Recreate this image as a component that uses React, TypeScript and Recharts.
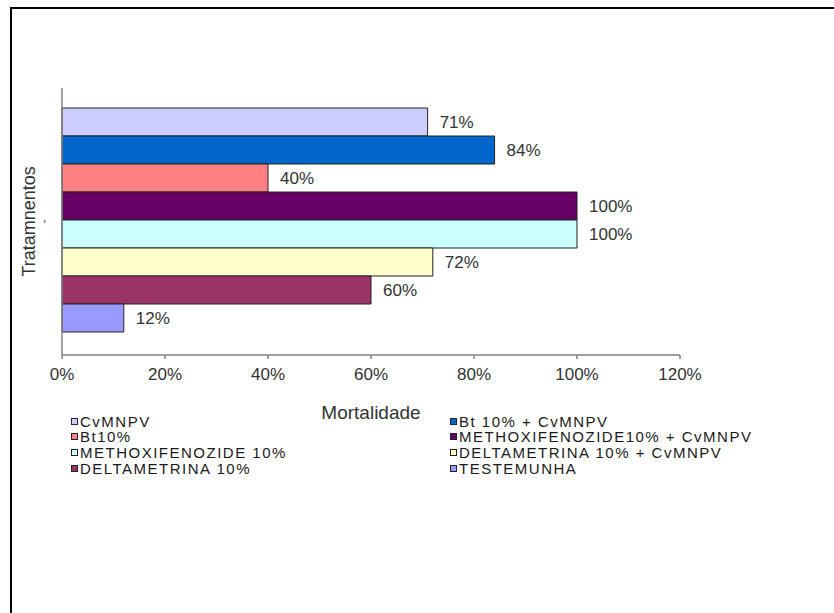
import React from "react";
import { BarChart, Bar, XAxis, YAxis, LabelList, Legend } from "recharts";

const categories = ["-"];
const seriesNames = [
  "CvMNPV",
  "Bt 10% + CvMNPV",
  "Bt10%",
  "METHOXIFENOZIDE10% + CvMNPV",
  "METHOXIFENOZIDE 10%",
  "DELTAMETRINA 10% + CvMNPV",
  "DELTAMETRINA 10%",
  "TESTEMUNHA",
];
const seriesValues = [71, 84, 40, 100, 100, 72, 60, 12];
const seriesColors = ["#CCCCFF", "#0066CC", "#FF8080", "#660066", "#CCFFFF", "#FFFFCC", "#993366", "#9999FF"];
const xTicks = [0, 20, 40, 60, 80, 100, 120];

const data = categories.map((name) => {
  const row: Record<string, string | number> = { name };
  seriesNames.forEach((_, i) => {
    row["s" + i] = seriesValues[i];
  });
  return row;
});

const FONT = "'Liberation Sans', Arial, sans-serif";

const LegendContent = () => (
  <div style={{ position: "relative", width: 834, height: 0, fontFamily: FONT }}>
    {seriesNames.map((n, i) => {
      const col = i % 2;
      const row = Math.floor(i / 2);
      return (
        <div
          key={n}
          style={{
            position: "absolute",
            left: col ? 450 : 71,
            top: row * 15.7,
            height: 16,
            display: "flex",
            alignItems: "center",
            whiteSpace: "nowrap",
          }}
        >
          <span
            style={{
              display: "inline-block",
              width: 5,
              height: 5,
              border: "1px solid #222",
              background: seriesColors[i],
              marginRight: 2,
            }}
          />
          <span style={{ fontSize: 15, letterSpacing: 1.5, color: "#1a1a1a" }}>{n}</span>
        </div>
      );
    })}
  </div>
);

const YTick = (props: any) => {
  const { y, payload } = props;
  return (
    <text
      x={44}
      y={y}
      transform={`rotate(-90 44 ${y})`}
      textAnchor="middle"
      dominantBaseline="central"
      fontSize={12}
      fontFamily={FONT}
      fill="#555"
    >
      {payload.value}
    </text>
  );
};

export default function App() {
  return (
    <div style={{ position: "absolute", left: 0, top: 0, width: 834, height: 613, background: "#fff" }}>
      <div
        style={{
          position: "absolute",
          left: 10,
          top: 7,
          width: 824,
          height: 606,
          borderTop: "2px solid #000",
          borderLeft: "2px solid #000",
          boxSizing: "border-box",
        }}
      />
      <div style={{ position: "absolute", left: 0, top: 0 }}>
        <BarChart
          width={834}
          height={613}
          data={data}
          layout="vertical"
          margin={{ top: 88, right: 154, bottom: 194, left: 22 }}
          barCategoryGap={20}
          barGap={0}
        >
          <XAxis
            type="number"
            domain={[0, 120]}
            ticks={xTicks}
            tickFormatter={(v: number) => v + "%"}
            axisLine={{ stroke: "#808080", strokeWidth: 1.5 }}
            tickLine={{ stroke: "#808080", strokeWidth: 1.5 }}
            tickSize={4}
            tickMargin={9}
            height={64}
            tick={{ fontSize: 17, fill: "#333", fontFamily: FONT }}
            label={{
              value: "Mortalidade",
              position: "insideBottom",
              offset: 0,
              fontSize: 19,
              fill: "#333",
              fontFamily: FONT,
            }}
          />
          <YAxis
            type="category"
            dataKey="name"
            width={40}
            axisLine={{ stroke: "#808080", strokeWidth: 1.5 }}
            tickLine={false}
            tick={<YTick />}
            label={{
              content: (p: any) => {
                const vb = p.viewBox || {};
                const cx = 29;
                const cy = (vb.y || 88) + (vb.height || 267) / 2;
                return (
                  <text
                    x={cx}
                    y={cy}
                    transform={`rotate(-90 ${cx} ${cy})`}
                    textAnchor="middle"
                    dominantBaseline="central"
                    fontSize={18}
                    fontFamily={FONT}
                    fill="#333"
                  >
                    Tratamnentos
                  </text>
                );
              },
            }}
          />
          {seriesNames.map((n, i) => (
            <Bar
              key={n}
              dataKey={"s" + i}
              name={n}
              fill={seriesColors[i]}
              stroke="#222"
              strokeWidth={1}
              isAnimationActive={false}
            >
              <LabelList
                dataKey={"s" + i}
                position="right"
                offset={12}
                formatter={(v: any) => v + "%"}
                style={{ fontSize: 17, fill: "#333", fontFamily: FONT }}
              />
            </Bar>
          ))}
          <Legend
            content={<LegendContent />}
            wrapperStyle={{ position: "absolute", top: 413, left: 0, width: 834, height: 0 }}
          />
        </BarChart>
      </div>
    </div>
  );
}
